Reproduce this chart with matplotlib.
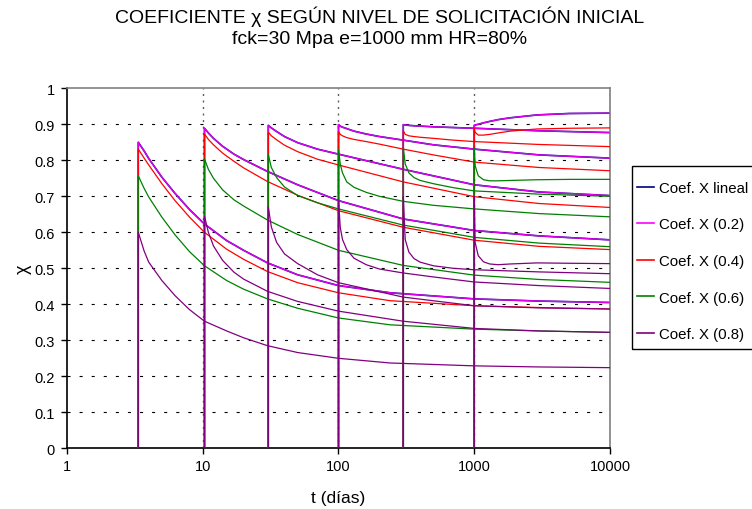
import matplotlib
matplotlib.use("Agg")
import matplotlib.pyplot as plt
from matplotlib.ticker import FixedLocator, NullLocator, FixedFormatter
from matplotlib.patches import Rectangle

plt.rcParams['font.family'] = ['Liberation Sans', 'DejaVu Sans']
plt.rcParams['lines.scale_dashes'] = False

# ---------------- data ----------------
# initial loading ages t0 (days)
t0_list = [3.35, 10.3, 30.4, 100, 300, 1000]

# t0 = 3.35
t_a = [3.35, 3.7, 4, 5, 6.25, 8, 10.3, 15, 20, 30, 50, 100, 240, 1000, 3000, 10000]
lin_a = [0.850, 0.826, 0.805, 0.753, 0.708, 0.663, 0.623, 0.577, 0.550, 0.515, 0.482, 0.452, 0.432, 0.415, 0.409, 0.405]
x02_a = lin_a
x04_a = [0.831, 0.806, 0.787, 0.735, 0.688, 0.642, 0.600, 0.553, 0.525, 0.491, 0.460, 0.432, 0.410, 0.396, 0.391, 0.387]
x06_a = [0.757, 0.722, 0.698, 0.642, 0.593, 0.546, 0.507, 0.466, 0.442, 0.415, 0.389, 0.362, 0.343, 0.331, 0.326, 0.322]
x08_a = [0.600, 0.548, 0.517, 0.466, 0.424, 0.385, 0.353, 0.326, 0.307, 0.285, 0.266, 0.250, 0.237, 0.229, 0.226, 0.224]

# t0 = 10.3
t_b = [10.3, 11, 12, 14, 17, 20, 30, 50, 100, 300, 1000, 3000, 10000]
lin_b = [0.889, 0.876, 0.861, 0.839, 0.817, 0.802, 0.769, 0.732, 0.688, 0.637, 0.605, 0.590, 0.579]
x02_b = lin_b
x04_b = [0.873, 0.858, 0.843, 0.820, 0.797, 0.779, 0.741, 0.703, 0.660, 0.614, 0.578, 0.561, 0.552]
x06_b = [0.804, 0.775, 0.750, 0.718, 0.690, 0.673, 0.634, 0.594, 0.550, 0.508, 0.481, 0.469, 0.461]
x08_b = [0.645, 0.600, 0.562, 0.522, 0.489, 0.470, 0.436, 0.408, 0.381, 0.353, 0.333, 0.326, 0.322]

# t0 = 30
t_c = [30.4, 32, 35, 40, 50, 70, 100, 300, 1000, 3000, 10000]
lin_c = [0.897, 0.890, 0.880, 0.866, 0.849, 0.831, 0.817, 0.775, 0.732, 0.712, 0.702]
x02_c = lin_c
x04_c = [0.878, 0.868, 0.857, 0.842, 0.824, 0.803, 0.787, 0.740, 0.699, 0.680, 0.669]
x06_c = [0.816, 0.780, 0.752, 0.726, 0.702, 0.682, 0.665, 0.620, 0.586, 0.570, 0.560]
x08_c = [0.670, 0.615, 0.572, 0.540, 0.513, 0.482, 0.460, 0.420, 0.396, 0.390, 0.387]

# t0 = 100
t_d = [100, 103, 107, 115, 130, 160, 200, 300, 500, 1000, 3000, 10000]
lin_d = [0.899, 0.895, 0.892, 0.888, 0.881, 0.873, 0.866, 0.856, 0.843, 0.831, 0.815, 0.806]
x02_d = lin_d
x04_d = [0.880, 0.872, 0.868, 0.863, 0.858, 0.852, 0.845, 0.831, 0.815, 0.795, 0.780, 0.771]
x06_d = [0.831, 0.790, 0.765, 0.740, 0.725, 0.711, 0.700, 0.686, 0.675, 0.665, 0.652, 0.643]
x08_d = [0.690, 0.614, 0.580, 0.552, 0.528, 0.510, 0.498, 0.487, 0.476, 0.462, 0.452, 0.444]

# t0 = 300
t_e = [300, 310, 330, 360, 400, 500, 700, 1000, 3000, 10000]
lin_e = [0.899, 0.898, 0.897, 0.896, 0.895, 0.893, 0.891, 0.889, 0.882, 0.877]
x02_e = lin_e
x04_e = [0.882, 0.872, 0.868, 0.866, 0.864, 0.861, 0.856, 0.852, 0.844, 0.838]
x06_e = [0.836, 0.790, 0.765, 0.752, 0.744, 0.735, 0.724, 0.715, 0.706, 0.700]
x08_e = [0.700, 0.580, 0.545, 0.527, 0.517, 0.507, 0.500, 0.496, 0.490, 0.485]

# t0 = 1000
t_f = [1000, 1015, 1070, 1170, 1300, 1500, 1840, 2900, 5000, 10000]
lin_f = [0.897, 0.898, 0.900, 0.904, 0.908, 0.913, 0.918, 0.926, 0.930, 0.931]
x02_f = lin_f
x04_f = [0.889, 0.878, 0.870, 0.870, 0.872, 0.876, 0.881, 0.887, 0.889, 0.890]
x06_f = [0.836, 0.785, 0.757, 0.746, 0.743, 0.743, 0.744, 0.746, 0.747, 0.747]
x08_f = [0.700, 0.572, 0.535, 0.518, 0.512, 0.510, 0.512, 0.515, 0.514, 0.513]

series_names = ["Coef. X lineal", "Coef. X (0.2)", "Coef. X (0.4)", "Coef. X (0.6)", "Coef. X (0.8)"]
series_colors = ["#000080", "#FF00FF", "#FF0000", "#008000", "#800080"]

times = [t_a, t_b, t_c, t_d, t_e, t_f]
lin = [lin_a, lin_b, lin_c, lin_d, lin_e, lin_f]
x02 = [x02_a, x02_b, x02_c, x02_d, x02_e, x02_f]
x04 = [x04_a, x04_b, x04_c, x04_d, x04_e, x04_f]
x06 = [x06_a, x06_b, x06_c, x06_d, x06_e, x06_f]
x08 = [x08_a, x08_b, x08_c, x08_d, x08_e, x08_f]
all_series = [lin, x02, x04, x06, x08]

y_ticks = [0, 0.1, 0.2, 0.3, 0.4, 0.5, 0.6, 0.7, 0.8, 0.9, 1]
y_ticklabels = ["0", "0.1", "0.2", "0.3", "0.4", "0.5", "0.6", "0.7", "0.8", "0.9", "1"]
x_ticks = [1, 10, 100, 1000, 10000]
x_ticklabels = ["1", "10", "100", "1000", "10000"]

# ---------------- figure ----------------
W, H = 752, 510
fig = plt.figure(figsize=(W / 100, H / 100), dpi=100)
fig.patch.set_facecolor("white")
ax = fig.add_axes([67 / W, 1 - 449.3 / H, (610 - 67) / W, (449.3 - 89.3) / H])

ax.set_xscale("log")
ax.set_xlim(1, 10000)
ax.set_ylim(0, 1)

# grid
for yv in y_ticks[1:-1]:
    ax.axhline(yv, color="black", lw=0.8, dashes=(2.2, 6.5), zorder=1)
for xv in x_ticks[1:]:
    ax.axvline(xv, color="#606060", lw=1.0, dashes=(1.5, 3.2), zorder=1)

widths = [1.2, 1.0, 0.9, 0.9, 0.9]
alphas = [1.0, 0.88, 1.0, 1.0, 1.0]
handles = []
for si, (name, col) in enumerate(zip(series_names, series_colors)):
    for k, t0 in enumerate(t0_list):
        xs = [t0] + times[k]
        ys = [0] + all_series[si][k]
        ln, = ax.plot(xs, ys, color=col, lw=widths[si], alpha=alphas[si],
                      zorder=2 + si, solid_joinstyle="round")
        if k == 0:
            handles.append(ln)

ax.xaxis.set_major_locator(FixedLocator(x_ticks))
ax.xaxis.set_major_formatter(FixedFormatter(x_ticklabels))
ax.xaxis.set_minor_locator(NullLocator())
ax.yaxis.set_major_locator(FixedLocator(y_ticks))
ax.yaxis.set_major_formatter(FixedFormatter(y_ticklabels))
ax.tick_params(axis="both", direction="out", length=4, width=1, labelsize=10.5, colors="black")
ax.tick_params(axis="y", pad=5)
ax.tick_params(axis="x", pad=4)

for s in ["left", "bottom"]:
    ax.spines[s].set_color("black")
    ax.spines[s].set_linewidth(1.2)
for s in ["top", "right"]:
    ax.spines[s].set_color("#808080")
    ax.spines[s].set_linewidth(1.2)

ax.set_xlabel("t (días)", fontsize=12.5, labelpad=12)
ax.set_ylabel("χ", fontsize=13, labelpad=2)

fig.text(0.505, 1 - 17 / H, "COEFICIENTE χ SEGÚN NIVEL DE SOLICITACIÓN INICIAL",
         ha="center", va="center", fontsize=14)
fig.text(0.505, 1 - 40 / H, "fck=30 Mpa e=1000 mm HR=80%", ha="center", va="center", fontsize=14)

# legend frame (extends past the right edge as in the reference)
fig.add_artist(Rectangle((632 / W, 1 - 350.3 / H), 0.3, (350.3 - 166.7) / H,
                         transform=fig.transFigure, fill=False, edgecolor="black", lw=1.0))
leg = fig.legend(handles, series_names, loc="upper left", bbox_to_anchor=(637 / W, 1 - 182 / H),
                 bbox_transform=fig.transFigure, borderaxespad=0, frameon=False,
                 fontsize=10.8, labelspacing=1.5, handlelength=1.13, handletextpad=0.36,
                 borderpad=0)
for h in leg.legend_handles:
    h.set_alpha(1.0)
    h.set_linewidth(1.2)

fig.savefig("out.png", dpi=100, facecolor="white")
